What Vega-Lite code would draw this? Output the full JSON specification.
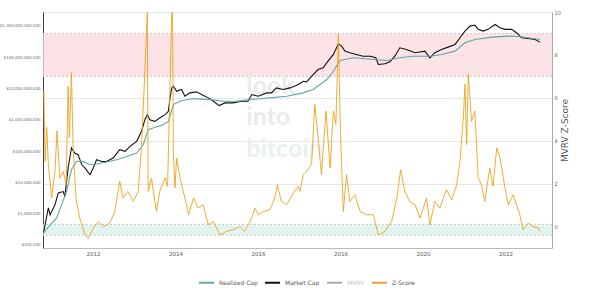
{
  "$schema": "https://vega.github.io/schema/vega-lite/v6.json",
  "width": 509,
  "height": 236,
  "autosize": {"type": "none"},
  "padding": {"left": 43, "top": 12, "right": 48, "bottom": 47},
  "background": "white",
  "config": {"view": {"stroke": null}, "font": "DejaVu Sans"},
  "datasets": {
    "bands": [{"band": "high", "lo": 7, "hi": 9}, {"band": "low", "lo": -0.4, "hi": 0.1}],
    "levels": [{"v": 9}, {"v": 7}, {"v": 0.1}, {"v": -0.4}],
    "caps": [
      {"t": 2010.80, "series": "Market Cap", "value": 2.37e5},
      {"t": 2010.92, "series": "Market Cap", "value": 1.53e6},
      {"t": 2010.96, "series": "Market Cap", "value": 9.2e5},
      {"t": 2011.08, "series": "Market Cap", "value": 1.91e6},
      {"t": 2011.16, "series": "Market Cap", "value": 4.6e6},
      {"t": 2011.28, "series": "Market Cap", "value": 5.1e6},
      {"t": 2011.32, "series": "Market Cap", "value": 3.5e6},
      {"t": 2011.40, "series": "Market Cap", "value": 2.94e7},
      {"t": 2011.48, "series": "Market Cap", "value": 1.26e8},
      {"t": 2011.56, "series": "Market Cap", "value": 8.7e7},
      {"t": 2011.64, "series": "Market Cap", "value": 7.7e7},
      {"t": 2011.73, "series": "Market Cap", "value": 3.66e7},
      {"t": 2011.81, "series": "Market Cap", "value": 2.87e7},
      {"t": 2011.93, "series": "Market Cap", "value": 1.75e7},
      {"t": 2012.01, "series": "Market Cap", "value": 2.94e7},
      {"t": 2012.09, "series": "Market Cap", "value": 5.3e7},
      {"t": 2012.21, "series": "Market Cap", "value": 4.68e7},
      {"t": 2012.33, "series": "Market Cap", "value": 4.68e7},
      {"t": 2012.49, "series": "Market Cap", "value": 6.0e7},
      {"t": 2012.65, "series": "Market Cap", "value": 1.11e8},
      {"t": 2012.78, "series": "Market Cap", "value": 9.8e7},
      {"t": 2012.90, "series": "Market Cap", "value": 1.42e8},
      {"t": 2013.06, "series": "Market Cap", "value": 2.05e8},
      {"t": 2013.18, "series": "Market Cap", "value": 4.28e8},
      {"t": 2013.26, "series": "Market Cap", "value": 1.01e9},
      {"t": 2013.32, "series": "Market Cap", "value": 1.47e9},
      {"t": 2013.38, "series": "Market Cap", "value": 1.01e9},
      {"t": 2013.50, "series": "Market Cap", "value": 8.95e8},
      {"t": 2013.62, "series": "Market Cap", "value": 1.15e9},
      {"t": 2013.75, "series": "Market Cap", "value": 1.47e9},
      {"t": 2013.83, "series": "Market Cap", "value": 1.87e9},
      {"t": 2013.87, "series": "Market Cap", "value": 5.15e9},
      {"t": 2013.91, "series": "Market Cap", "value": 1.05e10},
      {"t": 2013.95, "series": "Market Cap", "value": 1.19e10},
      {"t": 2014.03, "series": "Market Cap", "value": 8.2e9},
      {"t": 2014.15, "series": "Market Cap", "value": 9.3e9},
      {"t": 2014.23, "series": "Market Cap", "value": 5.67e9},
      {"t": 2014.35, "series": "Market Cap", "value": 7.28e9},
      {"t": 2014.51, "series": "Market Cap", "value": 7.84e9},
      {"t": 2014.67, "series": "Market Cap", "value": 6.1e9},
      {"t": 2014.80, "series": "Market Cap", "value": 5.04e9},
      {"t": 2014.92, "series": "Market Cap", "value": 3.92e9},
      {"t": 2015.06, "series": "Market Cap", "value": 2.85e9},
      {"t": 2015.20, "series": "Market Cap", "value": 3.48e9},
      {"t": 2015.40, "series": "Market Cap", "value": 3.48e9},
      {"t": 2015.60, "series": "Market Cap", "value": 3.92e9},
      {"t": 2015.76, "series": "Market Cap", "value": 3.92e9},
      {"t": 2015.85, "series": "Market Cap", "value": 6.43e9},
      {"t": 2016.01, "series": "Market Cap", "value": 5.67e9},
      {"t": 2016.21, "series": "Market Cap", "value": 7.28e9},
      {"t": 2016.33, "series": "Market Cap", "value": 7.28e9},
      {"t": 2016.45, "series": "Market Cap", "value": 1.05e10},
      {"t": 2016.61, "series": "Market Cap", "value": 9.3e9},
      {"t": 2016.78, "series": "Market Cap", "value": 1.05e10},
      {"t": 2016.98, "series": "Market Cap", "value": 1.34e10},
      {"t": 2017.10, "series": "Market Cap", "value": 1.71e10},
      {"t": 2017.18, "series": "Market Cap", "value": 1.64e10},
      {"t": 2017.34, "series": "Market Cap", "value": 2.81e10},
      {"t": 2017.46, "series": "Market Cap", "value": 4.06e10},
      {"t": 2017.58, "series": "Market Cap", "value": 4.6e10},
      {"t": 2017.70, "series": "Market Cap", "value": 7.5e10},
      {"t": 2017.83, "series": "Market Cap", "value": 1.23e11},
      {"t": 2017.95, "series": "Market Cap", "value": 2.71e11},
      {"t": 2018.03, "series": "Market Cap", "value": 2.27e11},
      {"t": 2018.11, "series": "Market Cap", "value": 1.57e11},
      {"t": 2018.23, "series": "Market Cap", "value": 1.39e11},
      {"t": 2018.39, "series": "Market Cap", "value": 1.23e11},
      {"t": 2018.55, "series": "Market Cap", "value": 1.08e11},
      {"t": 2018.72, "series": "Market Cap", "value": 1.08e11},
      {"t": 2018.86, "series": "Market Cap", "value": 9.6e10},
      {"t": 2018.92, "series": "Market Cap", "value": 5.9e10},
      {"t": 2019.08, "series": "Market Cap", "value": 6.2e10},
      {"t": 2019.20, "series": "Market Cap", "value": 7.2e10},
      {"t": 2019.32, "series": "Market Cap", "value": 1.08e11},
      {"t": 2019.44, "series": "Market Cap", "value": 2.01e11},
      {"t": 2019.60, "series": "Market Cap", "value": 1.78e11},
      {"t": 2019.81, "series": "Market Cap", "value": 1.39e11},
      {"t": 2020.05, "series": "Market Cap", "value": 1.57e11},
      {"t": 2020.17, "series": "Market Cap", "value": 9.6e10},
      {"t": 2020.29, "series": "Market Cap", "value": 1.4e11},
      {"t": 2020.45, "series": "Market Cap", "value": 1.78e11},
      {"t": 2020.61, "series": "Market Cap", "value": 2.11e11},
      {"t": 2020.78, "series": "Market Cap", "value": 2.57e11},
      {"t": 2020.90, "series": "Market Cap", "value": 4.22e11},
      {"t": 2021.02, "series": "Market Cap", "value": 6.87e11},
      {"t": 2021.14, "series": "Market Cap", "value": 9.9e11},
      {"t": 2021.26, "series": "Market Cap", "value": 1.07e12},
      {"t": 2021.34, "series": "Market Cap", "value": 7.8e11},
      {"t": 2021.46, "series": "Market Cap", "value": 6.87e11},
      {"t": 2021.58, "series": "Market Cap", "value": 7.8e11},
      {"t": 2021.75, "series": "Market Cap", "value": 1.12e12},
      {"t": 2021.87, "series": "Market Cap", "value": 8.8e11},
      {"t": 2021.99, "series": "Market Cap", "value": 7.8e11},
      {"t": 2022.15, "series": "Market Cap", "value": 7.8e11},
      {"t": 2022.27, "series": "Market Cap", "value": 6.1e11},
      {"t": 2022.39, "series": "Market Cap", "value": 4.22e11},
      {"t": 2022.55, "series": "Market Cap", "value": 4.0e11},
      {"t": 2022.72, "series": "Market Cap", "value": 3.72e11},
      {"t": 2022.84, "series": "Market Cap", "value": 3.05e11},
      {"t": 2010.80, "series": "Realized Cap", "value": 2.37e5},
      {"t": 2010.96, "series": "Realized Cap", "value": 4.38e5},
      {"t": 2011.12, "series": "Realized Cap", "value": 7.2e5},
      {"t": 2011.24, "series": "Realized Cap", "value": 1.91e6},
      {"t": 2011.36, "series": "Realized Cap", "value": 5.1e6},
      {"t": 2011.48, "series": "Realized Cap", "value": 2.53e7},
      {"t": 2011.60, "series": "Realized Cap", "value": 4.68e7},
      {"t": 2011.76, "series": "Realized Cap", "value": 4.68e7},
      {"t": 2011.93, "series": "Realized Cap", "value": 3.66e7},
      {"t": 2012.09, "series": "Realized Cap", "value": 3.86e7},
      {"t": 2012.33, "series": "Realized Cap", "value": 4.47e7},
      {"t": 2012.57, "series": "Realized Cap", "value": 5.3e7},
      {"t": 2012.82, "series": "Realized Cap", "value": 6.76e7},
      {"t": 2013.06, "series": "Realized Cap", "value": 8.7e7},
      {"t": 2013.22, "series": "Realized Cap", "value": 1.6e8},
      {"t": 2013.34, "series": "Realized Cap", "value": 4.85e8},
      {"t": 2013.46, "series": "Realized Cap", "value": 5.5e8},
      {"t": 2013.70, "series": "Realized Cap", "value": 7.0e8},
      {"t": 2013.83, "series": "Realized Cap", "value": 8.95e8},
      {"t": 2013.95, "series": "Realized Cap", "value": 3.07e9},
      {"t": 2014.11, "series": "Realized Cap", "value": 3.92e9},
      {"t": 2014.43, "series": "Realized Cap", "value": 4.78e9},
      {"t": 2014.84, "series": "Realized Cap", "value": 4.44e9},
      {"t": 2015.16, "series": "Realized Cap", "value": 3.92e9},
      {"t": 2015.48, "series": "Realized Cap", "value": 3.92e9},
      {"t": 2015.81, "series": "Realized Cap", "value": 4.44e9},
      {"t": 2016.29, "series": "Realized Cap", "value": 5.04e9},
      {"t": 2016.70, "series": "Realized Cap", "value": 5.67e9},
      {"t": 2017.10, "series": "Realized Cap", "value": 7.28e9},
      {"t": 2017.34, "series": "Realized Cap", "value": 9.3e9},
      {"t": 2017.67, "series": "Realized Cap", "value": 1.94e10},
      {"t": 2017.83, "series": "Realized Cap", "value": 3.58e10},
      {"t": 2017.99, "series": "Realized Cap", "value": 7.9e10},
      {"t": 2018.31, "series": "Realized Cap", "value": 9.6e10},
      {"t": 2018.80, "series": "Realized Cap", "value": 8.5e10},
      {"t": 2019.12, "series": "Realized Cap", "value": 7.9e10},
      {"t": 2019.44, "series": "Realized Cap", "value": 9.6e10},
      {"t": 2019.76, "series": "Realized Cap", "value": 1.08e11},
      {"t": 2020.17, "series": "Realized Cap", "value": 1.08e11},
      {"t": 2020.45, "series": "Realized Cap", "value": 1.23e11},
      {"t": 2020.78, "series": "Realized Cap", "value": 1.57e11},
      {"t": 2021.02, "series": "Realized Cap", "value": 2.92e11},
      {"t": 2021.26, "series": "Realized Cap", "value": 3.72e11},
      {"t": 2021.67, "series": "Realized Cap", "value": 4.41e11},
      {"t": 2022.07, "series": "Realized Cap", "value": 4.74e11},
      {"t": 2022.39, "series": "Realized Cap", "value": 4.54e11},
      {"t": 2022.84, "series": "Realized Cap", "value": 3.72e11}
    ],
    "z": [
      {"t": 2010.81, "z": 6.32}, {"t": 2010.84, "z": 3.04}, {"t": 2010.88, "z": 4.62}, {"t": 2010.92, "z": 2.89},
      {"t": 2011.00, "z": 1.33}, {"t": 2011.08, "z": 2.57}, {"t": 2011.13, "z": 4.45}, {"t": 2011.20, "z": 2.26},
      {"t": 2011.28, "z": 2.57}, {"t": 2011.35, "z": 1.95}, {"t": 2011.40, "z": 6.55}, {"t": 2011.43, "z": 4.15},
      {"t": 2011.48, "z": 7.18}, {"t": 2011.52, "z": 3.67}, {"t": 2011.59, "z": 1.33}, {"t": 2011.68, "z": 0.39},
      {"t": 2011.81, "z": -0.39}, {"t": 2011.89, "z": -0.54}, {"t": 2012.01, "z": -0.07}, {"t": 2012.13, "z": 0.23},
      {"t": 2012.25, "z": 0.0}, {"t": 2012.41, "z": 0.16}, {"t": 2012.53, "z": 0.70}, {"t": 2012.65, "z": 2.11},
      {"t": 2012.73, "z": 1.33}, {"t": 2012.85, "z": 1.64}, {"t": 2012.98, "z": 1.17}, {"t": 2013.10, "z": 1.64},
      {"t": 2013.18, "z": 3.82}, {"t": 2013.26, "z": 7.25}, {"t": 2013.32, "z": 9.99}, {"t": 2013.34, "z": 1.64},
      {"t": 2013.42, "z": 2.26}, {"t": 2013.54, "z": 0.70}, {"t": 2013.62, "z": 1.64}, {"t": 2013.75, "z": 2.26},
      {"t": 2013.81, "z": 1.87}, {"t": 2013.87, "z": 6.63}, {"t": 2013.91, "z": 9.91}, {"t": 2013.93, "z": 9.99},
      {"t": 2013.95, "z": 3.51}, {"t": 2013.99, "z": 1.80}, {"t": 2014.03, "z": 3.20}, {"t": 2014.11, "z": 2.26},
      {"t": 2014.23, "z": 1.33}, {"t": 2014.32, "z": 0.55}, {"t": 2014.44, "z": 1.33}, {"t": 2014.55, "z": 0.86},
      {"t": 2014.67, "z": 1.02}, {"t": 2014.80, "z": 0.08}, {"t": 2014.92, "z": 0.23}, {"t": 2015.08, "z": -0.39},
      {"t": 2015.24, "z": -0.23}, {"t": 2015.40, "z": -0.15}, {"t": 2015.56, "z": 0.0}, {"t": 2015.68, "z": -0.23},
      {"t": 2015.85, "z": 0.39}, {"t": 2015.93, "z": 0.86}, {"t": 2016.01, "z": 0.55}, {"t": 2016.13, "z": 0.70},
      {"t": 2016.29, "z": 0.78}, {"t": 2016.41, "z": 1.33}, {"t": 2016.47, "z": 1.95}, {"t": 2016.57, "z": 1.17},
      {"t": 2016.70, "z": 1.02}, {"t": 2016.86, "z": 1.56}, {"t": 2016.98, "z": 1.87}, {"t": 2017.02, "z": 1.64},
      {"t": 2017.10, "z": 2.42}, {"t": 2017.18, "z": 2.57}, {"t": 2017.30, "z": 2.89}, {"t": 2017.38, "z": 5.69},
      {"t": 2017.46, "z": 4.14}, {"t": 2017.54, "z": 2.42}, {"t": 2017.65, "z": 5.38}, {"t": 2017.75, "z": 2.73},
      {"t": 2017.83, "z": 5.38}, {"t": 2017.89, "z": 4.76}, {"t": 2017.95, "z": 8.97}, {"t": 2018.00, "z": 4.45},
      {"t": 2018.07, "z": 0.70}, {"t": 2018.15, "z": 2.42}, {"t": 2018.23, "z": 1.17}, {"t": 2018.35, "z": 1.48},
      {"t": 2018.48, "z": 0.70}, {"t": 2018.64, "z": 0.55}, {"t": 2018.80, "z": 0.55}, {"t": 2018.92, "z": -0.39},
      {"t": 2019.08, "z": -0.23}, {"t": 2019.24, "z": 0.23}, {"t": 2019.37, "z": 1.33}, {"t": 2019.46, "z": 2.65},
      {"t": 2019.56, "z": 1.64}, {"t": 2019.68, "z": 1.17}, {"t": 2019.81, "z": 1.02}, {"t": 2019.93, "z": 0.39},
      {"t": 2020.09, "z": 1.33}, {"t": 2020.17, "z": 0.08}, {"t": 2020.29, "z": 1.17}, {"t": 2020.41, "z": 0.86},
      {"t": 2020.57, "z": 1.72}, {"t": 2020.70, "z": 1.25}, {"t": 2020.82, "z": 1.95}, {"t": 2020.90, "z": 3.04},
      {"t": 2020.98, "z": 5.07}, {"t": 2021.02, "z": 6.63}, {"t": 2021.06, "z": 3.82}, {"t": 2021.10, "z": 7.10},
      {"t": 2021.18, "z": 4.91}, {"t": 2021.26, "z": 5.38}, {"t": 2021.34, "z": 2.26}, {"t": 2021.42, "z": 1.95},
      {"t": 2021.50, "z": 1.17}, {"t": 2021.62, "z": 2.73}, {"t": 2021.70, "z": 1.87}, {"t": 2021.79, "z": 3.67},
      {"t": 2021.87, "z": 3.20}, {"t": 2021.99, "z": 1.80}, {"t": 2022.07, "z": 1.02}, {"t": 2022.19, "z": 1.48},
      {"t": 2022.27, "z": 1.02}, {"t": 2022.35, "z": 0.55}, {"t": 2022.43, "z": -0.15}, {"t": 2022.55, "z": 0.16},
      {"t": 2022.67, "z": 0.0}, {"t": 2022.80, "z": -0.07}, {"t": 2022.84, "z": -0.23}
    ]
  },
  "layer": [
    {
      "layer": [
        {
          "data": {"name": "bands"},
          "mark": {"type": "rect"},
          "encoding": {
            "y": {"field": "hi", "type": "quantitative",
              "scale": {"domain": [-1, 10], "nice": false, "zero": false},
              "axis": {"orient": "right", "values": [0, 2, 4, 6, 8, 10], "grid": true, "gridColor": "#e6e6e6", "gridWidth": 1,
                "ticks": false, "domainColor": "#aaaaaa", "labelFontSize": 5, "labelColor": "#666666", "labelPadding": 2,
                "title": "MVRV Z-Score", "titleAngle": 270, "titleFontSize": 9, "titleFontWeight": "normal", "titleColor": "#555555", "titlePadding": 9}},
            "y2": {"field": "lo"},
            "fill": {"condition": {"test": "datum.band == 'high'", "value": "#fbd9dc"}, "value": "#dcf3ec"},
            "opacity": {"condition": {"test": "datum.band == 'high'", "value": 0.75}, "value": 0.8}
          }
        },
        {
          "data": {"name": "levels"},
          "mark": {"type": "rule", "stroke": "#bdbdbd", "strokeWidth": 0.8, "strokeDash": [2, 2]},
          "encoding": {"y": {"field": "v", "type": "quantitative"}}
        },
        {
          "data": {"values": [{}]},
          "mark": {"type": "text", "text": "look", "font": "Lato", "fontWeight": "bold", "fontSize": 25, "align": "left", "baseline": "middle", "fill": "#ebebeb"},
          "encoding": {"x": {"datum": 2015.72, "type": "quantitative"}, "y": {"datum": 6.55, "type": "quantitative"}}
        },
        {
          "data": {"values": [{}]},
          "mark": {"type": "text", "text": "into", "font": "Lato", "fontWeight": "bold", "fontSize": 25, "align": "left", "baseline": "middle", "fill": "#ebebeb"},
          "encoding": {"x": {"datum": 2015.72, "type": "quantitative"}, "y": {"datum": 5.1, "type": "quantitative"}}
        },
        {
          "data": {"values": [{}]},
          "mark": {"type": "text", "text": "bitcoin", "font": "Lato", "fontWeight": "bold", "fontSize": 25, "align": "left", "baseline": "middle", "fill": "#e6f2ed"},
          "encoding": {"x": {"datum": 2015.72, "type": "quantitative"}, "y": {"datum": 3.6, "type": "quantitative"}}
        }
      ]
    },
    {
      "data": {"name": "caps"},
      "mark": {"type": "line", "strokeWidth": 1.1, "clip": true},
      "encoding": {
        "x": {"field": "t", "type": "quantitative",
          "scale": {"domain": [2010.79, 2023.13], "nice": false, "zero": false},
          "axis": {"values": [2012, 2014, 2016, 2018, 2020, 2022], "format": "d", "grid": false, "ticks": false,
            "domainColor": "#bbbbbb", "labelFontSize": 5.5, "labelColor": "#555555", "labelPadding": 3, "title": null}},
        "y": {"field": "value", "type": "quantitative",
          "scale": {"type": "log", "domain": [80000, 2.8e12], "nice": false},
          "axis": {"orient": "left", "values": [1e5, 1e6, 1e7, 1e8, 1e9, 1e10, 1e11, 1e12], "format": "$,.0f",
            "grid": false, "ticks": false, "domainColor": "#444444", "labelFontSize": 4, "labelColor": "#666666",
            "labelPadding": 3, "title": null}},
        "strokeWidth": {"condition": {"test": "datum.series == 'Market Cap'", "value": 1.3}, "value": 1},
        "color": {"field": "series", "type": "nominal",
          "scale": {"domain": ["Realized Cap", "Market Cap", "MVRV", "Z-Score"], "range": ["#5fa8a2", "#111111", "#aaaaaa", "#eda21f"]},
          "legend": {"orient": "none", "legendX": 155, "legendY": 262, "direction": "horizontal", "title": null, "symbolType": "stroke", "symbolSize": 225,
            "symbolStrokeWidth": 2, "labelFontSize": 6, "labelColor": "#555555", "columnPadding": 3, "labelOffset": 4,
            "encode": {
              "labels": {"update": {"fill": {"signal": "datum.value == 'MVRV' ? '#c4c4c4' : '#555555'"}}},
              "symbols": {"update": {"stroke": {"signal": "datum.value == 'Z-Score' ? '#d9dcb6' : datum.value == 'Realized Cap' ? '#9fc9c3' : datum.value == 'Market Cap' ? '#444444' : '#bbbbbb'"}}}
            }}}
      }
    },
    {
      "data": {"name": "z"},
      "mark": {"type": "line", "strokeWidth": 0.9, "clip": true},
      "encoding": {
        "x": {"field": "t", "type": "quantitative"},
        "y": {"field": "z", "type": "quantitative", "scale": {"domain": [-1, 10], "nice": false, "zero": false}, "axis": null},
        "color": {"datum": "Z-Score"}
      }
    }
  ],
  "resolve": {"scale": {"y": "independent"}, "axis": {"y": "independent"}}
}
